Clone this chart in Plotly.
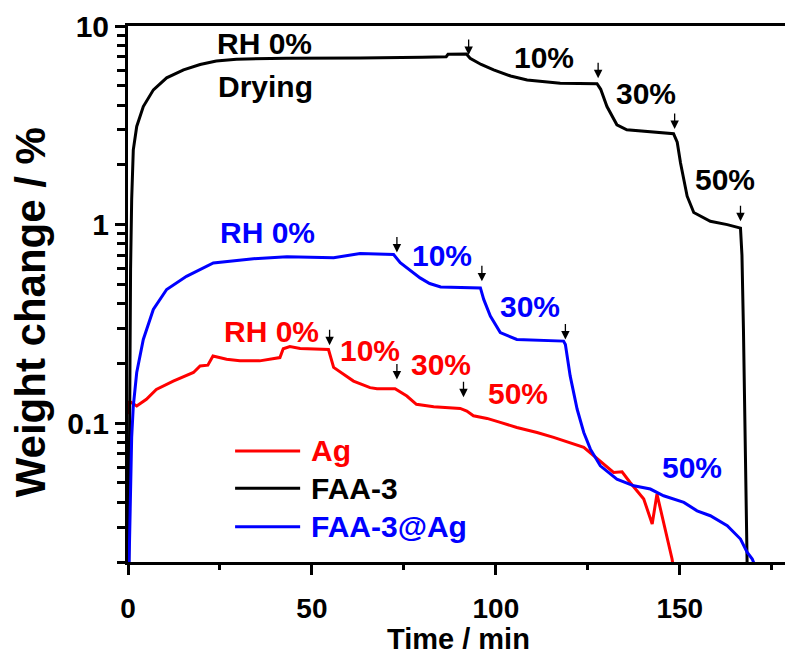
import math
import plotly.graph_objects as go

# Weight change vs time for three membranes under stepped relative humidity
ag_t = [0.35, 0.35, 2.37, 5.0, 7.7, 12.3, 17.8, 19.6, 21.7, 23.1, 26.8, 30.4, 35.8, 41.3, 42.2, 44.0,
        46.8, 54.5, 55.9, 61.3, 65.8, 67.7, 72.6, 75.8, 78.4, 83.1, 90.3, 92.1, 93.9, 97.6, 101.2,
        105.7, 111.2, 115.7, 123.9, 126.6, 132.0, 134.3, 136.5, 140.2, 142.5, 143.8, 147.3, 147.9, 148.2]
ag_w = [0.111, 0.129, 0.122, 0.132, 0.148, 0.163, 0.180, 0.194, 0.196, 0.218, 0.210, 0.206, 0.206,
        0.214, 0.237, 0.243, 0.238, 0.235, 0.191, 0.163, 0.151, 0.149, 0.149, 0.137, 0.1245, 0.121,
        0.1186, 0.115, 0.109, 0.1057, 0.101, 0.0952, 0.0898, 0.0848, 0.0755, 0.0686, 0.0565, 0.0569,
        0.0503, 0.0415, 0.0311, 0.0440, 0.0237, 0.0207, 0.019]

faa3_t = [0.2, 0.35, 0.5, 0.7, 1.0, 1.44, 2.37, 4.16, 6.9, 10.5, 15.1, 19.6, 24.0, 29.5, 43.1, 63.1,
          80.0, 86.5, 87.0, 92.0, 93.0, 96.0, 99.4, 104.0, 108.5, 117.5, 127.5, 128.5, 130.2, 132.9,
          135.6, 144.7, 148.3, 149.3, 150.2, 152.0, 153.8, 158.3, 162.9, 166.5, 166.9, 167.3, 167.7,
          168.1, 168.4]
faa3_w = [0.02, 0.06, 0.2, 0.6, 1.34, 2.38, 3.12, 3.93, 4.77, 5.48, 6.01, 6.4, 6.66, 6.80, 6.89, 6.90,
          6.97, 7.0, 7.2, 7.23, 6.88, 6.4, 6.01, 5.6, 5.35, 5.15, 5.12, 4.8, 3.93, 3.18, 3.0, 2.89, 2.87,
          2.6, 2.04, 1.39, 1.15, 1.04, 1.0, 0.96, 0.7, 0.3, 0.1, 0.035, 0.015]

faa3ag_t = [0.3, 0.6, 1.0, 1.44, 2.37, 4.16, 6.88, 10.5, 15.9, 23.2, 34.1, 43.2, 55.9, 63.1, 72.2, 74.0,
            76.5, 79.4, 82.0, 85.0, 95.8, 96.7, 98.5, 101.2, 105.7, 118.4, 118.9, 120.2, 122.1, 123.9,
            125.7, 128.4, 132.9, 137.5, 142.0, 145.6, 151.1, 154.7, 158.3, 162.9, 166.5, 168.3, 169.7,
            170.5]
faa3ag_w = [0.02, 0.045, 0.085, 0.122, 0.18, 0.264, 0.374, 0.471, 0.549, 0.641, 0.673, 0.689, 0.681,
            0.715, 0.707, 0.643, 0.59, 0.539, 0.505, 0.485, 0.48, 0.42, 0.346, 0.286, 0.264, 0.259,
            0.249, 0.173, 0.1175, 0.0898, 0.074, 0.061, 0.0523, 0.0484, 0.0466, 0.0431, 0.0399, 0.0362,
            0.0342, 0.0305, 0.0261, 0.0224, 0.0207, 0.019]

series_names = ["Ag", "FAA-3", "FAA-3@Ag"]
series_colors = ["#FF0000", "#000000", "#0000FF"]

# humidity-step labels: (text, time, weight, colour)
step_labels = [
    ("RH 0%", 37.0, 8.2, "#000000"), ("Drying", 37.5, 4.95, "#000000"),
    ("10%", 113.0, 6.95, "#000000"), ("30%", 140.9, 4.57, "#000000"), ("50%", 162.4, 1.68, "#000000"),
    ("RH 0%", 37.9, 0.916, "#0000FF"), ("10%", 85.4, 0.698, "#0000FF"),
    ("30%", 109.4, 0.387, "#0000FF"), ("50%", 153.2, 0.0601, "#0000FF"),
    ("RH 0%", 39.1, 0.288, "#FF0000"), ("10%", 65.8, 0.231, "#FF0000"),
    ("30%", 85.1, 0.198, "#FF0000"), ("50%", 106.0, 0.1416, "#FF0000"),
]

# times and weights where the humidity was switched
switch_t = [92.6, 127.8, 148.6, 166.5, 73.1, 96.2, 118.9, 54.8, 73.1, 91.2]
switch_w = [7.15, 5.46, 3.03, 1.04, 0.723, 0.518, 0.264, 0.247, 0.166, 0.135]

FONT = "Liberation Sans, Arial, sans-serif"
LABEL_SIZE = 30

fig = go.Figure()
for name, color, t, w in zip(series_names, series_colors,
                             [ag_t, faa3_t, faa3ag_t], [ag_w, faa3_w, faa3ag_w]):
    fig.add_trace(go.Scatter(x=t, y=w, mode="lines", name=name,
                             line=dict(color=color, width=3), showlegend=False))

annotations = []
for text, t, w, color in step_labels:
    annotations.append(dict(x=t, y=math.log10(w), xref="x", yref="y", text=text, showarrow=False,
                            font=dict(family=FONT, size=LABEL_SIZE, color=color, weight="bold")))
for t, w in zip(switch_t, switch_w):
    annotations.append(dict(x=t, y=math.log10(w), xref="x", yref="y", text="", showarrow=True,
                            arrowhead=2, arrowsize=1.3, arrowwidth=1.3, arrowcolor="#000000",
                            ax=0, ay=-17, standoff=0))

# legend drawn as line samples with coloured labels
legend_y = [0.2071, 0.1375, 0.0659]
shapes = []
for name, color, ly in zip(series_names, series_colors, legend_y):
    shapes.append(dict(type="line", xref="paper", yref="paper", x0=0.163, x1=0.262, y0=ly, y1=ly,
                       line=dict(color=color, width=3)))
    annotations.append(dict(x=0.277, y=ly, xref="paper", yref="paper", text=name, showarrow=False,
                            xanchor="left", yanchor="middle", borderpad=0,
                            font=dict(family=FONT, size=LABEL_SIZE, color=color, weight="bold")))

# axis titles
annotations.append(dict(x=0.5025, y=-0.144, xref="paper", yref="paper", text="Time / min",
                        showarrow=False, xanchor="center", yanchor="middle", borderpad=0,
                        font=dict(family=FONT, size=29, color="black", weight="bold")))
annotations.append(dict(x=-0.149, y=0.466, xref="paper", yref="paper", text="Weight change / %",
                        showarrow=False, xanchor="center", yanchor="middle", textangle=-90,
                        font=dict(family=FONT, size=42, color="black", weight="bold")))

fig.update_layout(
    width=785, height=658,
    margin=dict(l=128, r=0, t=26, b=96),
    paper_bgcolor="white", plot_bgcolor="white",
    font=dict(family=FONT, color="black"),
    annotations=annotations, shapes=shapes,
    xaxis=dict(range=[0, 178.6], showgrid=False, zeroline=False,
               showline=True, linecolor="black", linewidth=3, mirror=True,
               ticks="outside", ticklen=10, tickwidth=3, tickcolor="black",
               tickvals=[0, 50, 100, 150], ticklabelstandoff=9,
               minor=dict(tickvals=[25, 75, 125, 175], ticks="outside", ticklen=5,
                          tickwidth=3, tickcolor="black"),
               tickfont=dict(family=FONT, size=28, weight="bold")),
    yaxis=dict(type="log", range=[math.log10(0.02), 1], showgrid=False, zeroline=False,
               showline=True, linecolor="black", linewidth=3,
               ticks="outside", ticklen=10, tickwidth=3, tickcolor="black",
               tickvals=[0.1, 1, 10], ticktext=["0.1", "1", "10"],
               minor=dict(tickvals=[0.02, 0.03, 0.04, 0.05, 0.06, 0.07, 0.08, 0.09,
                                    0.2, 0.3, 0.4, 0.5, 0.6, 0.7, 0.8, 0.9,
                                    2, 3, 4, 5, 6, 7, 8, 9],
                          ticks="outside", ticklen=8, tickwidth=3, tickcolor="black"),
               tickfont=dict(family=FONT, size=30, weight="bold")),
)

fig.write_html("out.html")
